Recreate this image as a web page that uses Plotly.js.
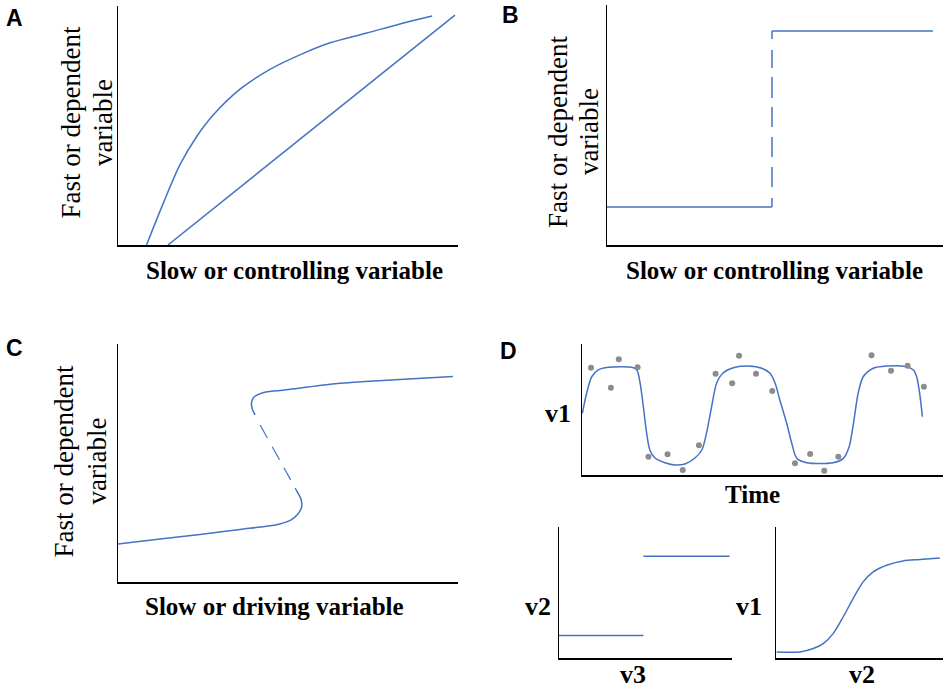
<!DOCTYPE html>
<html>
<head>
<meta charset="utf-8">
<script src="https://cdn.plot.ly/plotly-3.0.1.min.js"></script>
<style>html,body{margin:0;padding:0;background:#fff;}#chart{width:944px;height:691px;}</style>
</head>
<body>
<div id="chart"></div>
<script>
// ---------- Panel A ----------
const aCurveX = [8.4, 13.3, 18.2, 23.1, 28.0, 35.9, 44.7, 54.5, 62.4, 73.2, 82.9, 92.4];
const aCurveY = [0, 17.4, 33.5, 45.3, 54.4, 65.2, 73.5, 80.2, 84.6, 88.7, 92.5, 95.8];
const aLineX = [14.7, 99.1];
const aLineY = [0, 96.2];
// ---------- Panel B ----------
const bLowerX = [0, 49.1];
const bLowerY = [15.8, 15.8];
const bJumpX = [49.1, 49.1];
const bJumpY = [15.8, 89.2];
const bUpperX = [49.1, 97];
const bUpperY = [89.2, 89.2];
// ---------- Panel C ----------
const cLowerX = [0, 12.4, 24.1, 35.9, 43.2, 47.6, 50.9, 52.9, 54.0, 53.8, 52.6, 52.1];
const cLowerY = [16.0, 18.1, 20.0, 22.1, 23.3, 24.4, 26.1, 28.6, 31.5, 34.9, 38.2, 39.5];
const cMiddleX = [50.8, 41.8];
const cMiddleY = [42.9, 66.0];
const cUpperX = [40.3, 39.4, 39.3, 40.0, 42.6, 47.6, 52.6, 57.9, 63.2, 72.6, 82.9, 98.5];
const cUpperY = [70.2, 73.1, 75.6, 77.7, 79.5, 80.5, 81.3, 82.3, 83.2, 84.2, 85.1, 86.3];
// ---------- Panel D: v1 over time ----------
const dTime = [0.1, 1.3, 2.7, 4.5, 7.3, 13.8, 15.2, 16.1, 17.0, 17.9, 18.8, 20.2, 23.0, 25.8, 28.5, 31.3, 33.2, 34.5, 35.9, 37.3, 39.1, 42.4, 46.1, 49.8, 52.1, 53.5, 54.8, 56.7, 58.1, 59.5, 62.2, 69.6, 72.4, 74.0, 75.2, 76.5, 77.9, 80.7, 84.4, 89.9, 91.8, 92.7, 93.4, 94.3];
const dV1 = [47.1, 62.6, 75.0, 80.2, 82.2, 82.2, 80.2, 70.2, 52.1, 32.1, 19.1, 13.0, 9.4, 7.6, 8.4, 13.0, 19.1, 32.1, 52.1, 70.2, 77.9, 82.2, 83.2, 81.5, 77.6, 70.0, 57.3, 39.5, 24.2, 12.7, 9.4, 9.4, 12.7, 21.6, 39.5, 62.4, 75.0, 81.5, 83.2, 82.7, 80.2, 75.0, 64.9, 44.5];
const dObsTime = [2.5, 8.0, 10.2, 15.4, 18.4, 23.7, 27.9, 32.4, 37.0, 41.6, 43.5, 48.2, 52.7, 59.0, 63.2, 67.1, 71.0, 80.2, 85.6, 90.2, 94.7];
const dObsV1 = [81.9, 66.6, 88.3, 82.2, 14.0, 15.8, 3.8, 22.7, 77.3, 70.0, 91.1, 77.3, 64.1, 8.9, 16.0, 3.3, 14.0, 91.4, 79.6, 83.4, 67.4];
// ---------- Panel D: v2 vs v3 ----------
const eLowerX = [0, 48.8];
const eLowerY = [17.1, 17.1];
const eUpperX = [48.8, 98.6];
const eUpperY = [77.6, 77.6];
// ---------- Panel D: v1 vs v2 ----------
const fX = [0.4, 14.3, 22.3, 28.3, 34.2, 40.2, 46.2, 52.2, 58.2, 66.2, 76.1, 86.1, 98.1];
const fY = [4.6, 4.6, 7.2, 11.0, 18.6, 31.3, 45.4, 58.1, 65.7, 70.8, 74.1, 75.2, 76.4];
// ---------- Text ----------
const panelLetters = ["A", "B", "C", "D"];
const xTitleAB = "Slow or controlling variable";
const xTitleC = "Slow or driving variable";
const yTitleLines = ["Fast or dependent", "variable"];
const dLabels = {time: "Time", v1: "v1", v2: "v2", v3: "v3"};

const W = 944, H = 691;
const BLUE = "#4472C4";
const GRAY = "#8c8c8c";
const SERIF = "Liberation Serif, Times New Roman, serif";
const SANS = "Liberation Sans, Arial, sans-serif";

function px(x) { return x / W; }
function py(y) { return 1 - y / H; }

function line(x, y, xa, ya, opts) {
  opts = opts || {};
  return {
    x: x, y: y, xaxis: xa, yaxis: ya, type: "scatter", mode: "lines",
    line: {color: BLUE, width: opts.width || 1.5, shape: opts.shape || "linear", dash: opts.dash || "solid", smoothing: opts.smoothing || 1},
    hoverinfo: "skip", showlegend: false
  };
}

const traces = [
  line(aCurveX, aCurveY, "x", "y", {shape: "spline", smoothing: 0.9}),
  line(aLineX, aLineY, "x", "y"),
  line(bLowerX, bLowerY, "x2", "y2"),
  line(bJumpX, bJumpY, "x2", "y2", {dash: "9px,11px,20px,10px,20px,10px,20px,9px,21px,9px,18px,11px,8px"}),
  line(bUpperX, bUpperY, "x2", "y2"),
  line(cLowerX, cLowerY, "x3", "y3", {shape: "spline", smoothing: 0.7}),
  line(cMiddleX, cMiddleY, "x3", "y3", {dash: "14px,9px,15px,10px,15px", width: 1.2}),
  line(cUpperX, cUpperY, "x3", "y3", {shape: "spline", smoothing: 0.7}),
  line(dTime, dV1, "x4", "y4", {shape: "spline", smoothing: 0.8}),
  {x: dObsTime, y: dObsV1, xaxis: "x4", yaxis: "y4", type: "scatter", mode: "markers",
   marker: {color: GRAY, size: 6}, hoverinfo: "skip", showlegend: false, cliponaxis: false},
  line(eLowerX, eLowerY, "x5", "y5"),
  line(eUpperX, eUpperY, "x5", "y5"),
  line(fX, fY, "x6", "y6", {shape: "spline", smoothing: 0.8})
];

function xax(d, yName) {
  return {domain: d, anchor: yName, range: [0, 100], showline: true, linecolor: "#000", linewidth: 2,
          showticklabels: false, ticks: "", showgrid: false, zeroline: false, fixedrange: true};
}
function yax(d, xName) {
  return {domain: d, anchor: xName, range: [0, 100], showline: true, linecolor: "#000", linewidth: 1.5,
          showticklabels: false, ticks: "", showgrid: false, zeroline: false, fixedrange: true};
}

function ann(text, x, y, size, opts) {
  opts = opts || {};
  return {text: text, xref: "paper", yref: "paper", x: px(x), y: py(y), xanchor: "center", yanchor: "middle",
          showarrow: false, textangle: opts.angle || 0,
          font: {family: opts.family || SERIF, size: size, color: "#000", weight: opts.weight || "normal"}};
}

const annotations = [
  ann(panelLetters[0], 14, 17.5, 23, {family: SANS, weight: "bold"}),
  ann(panelLetters[1], 510.5, 15.3, 23, {family: SANS, weight: "bold"}),
  ann(panelLetters[2], 14.7, 348.3, 23, {family: SANS, weight: "bold"}),
  ann(panelLetters[3], 508.3, 350.5, 23, {family: SANS, weight: "bold"}),
  ann(xTitleAB, 294.5, 270.9, 25, {weight: "bold"}),
  ann(xTitleAB, 774.5, 270.9, 25, {weight: "bold"}),
  ann(xTitleC, 274.5, 606.6, 25, {weight: "bold"}),
  ann(yTitleLines[0], 70.5, 123, 27, {angle: -90}),
  ann(yTitleLines[1], 102.5, 122.5, 27, {angle: -90}),
  ann(yTitleLines[0], 557.5, 132.5, 27, {angle: -90}),
  ann(yTitleLines[1], 588.5, 131.5, 27, {angle: -90}),
  ann(yTitleLines[0], 63.5, 462, 27, {angle: -90}),
  ann(yTitleLines[1], 96.5, 461, 27, {angle: -90}),
  ann(dLabels.time, 752.5, 494.9, 25, {weight: "bold"}),
  ann(dLabels.v1, 558, 413.9, 26, {weight: "bold"}),
  ann(dLabels.v2, 537.5, 606.2, 26, {weight: "bold"}),
  ann(dLabels.v3, 633, 674.5, 26, {weight: "bold"}),
  ann(dLabels.v1, 749, 606.2, 26, {weight: "bold"}),
  ann(dLabels.v2, 861.5, 674.3, 26, {weight: "bold"})
];

const layout = {
  width: W, height: H, margin: {l: 0, r: 0, t: 0, b: 0},
  paper_bgcolor: "#fff", plot_bgcolor: "#fff", showlegend: false,
  xaxis: xax([px(118), px(458)], "y"),   yaxis: yax([py(245), py(6)], "x"),
  xaxis2: xax([px(607), px(943)], "y2"), yaxis2: yax([py(245), py(5)], "x2"),
  xaxis3: xax([px(118), px(458)], "y3"), yaxis3: yax([py(582), py(344)], "x3"),
  xaxis4: xax([px(582), px(943)], "y4"), yaxis4: yax([py(475), py(344)], "x4"),
  xaxis5: xax([px(559), px(732)], "y5"), yaxis5: yax([py(658), py(527)], "x5"),
  xaxis6: xax([px(776), px(943)], "y6"), yaxis6: yax([py(658), py(527)], "x6"),
  annotations: annotations
};

Plotly.newPlot("chart", traces, layout, {staticPlot: true, displayModeBar: false});
</script>
</body>
</html>
